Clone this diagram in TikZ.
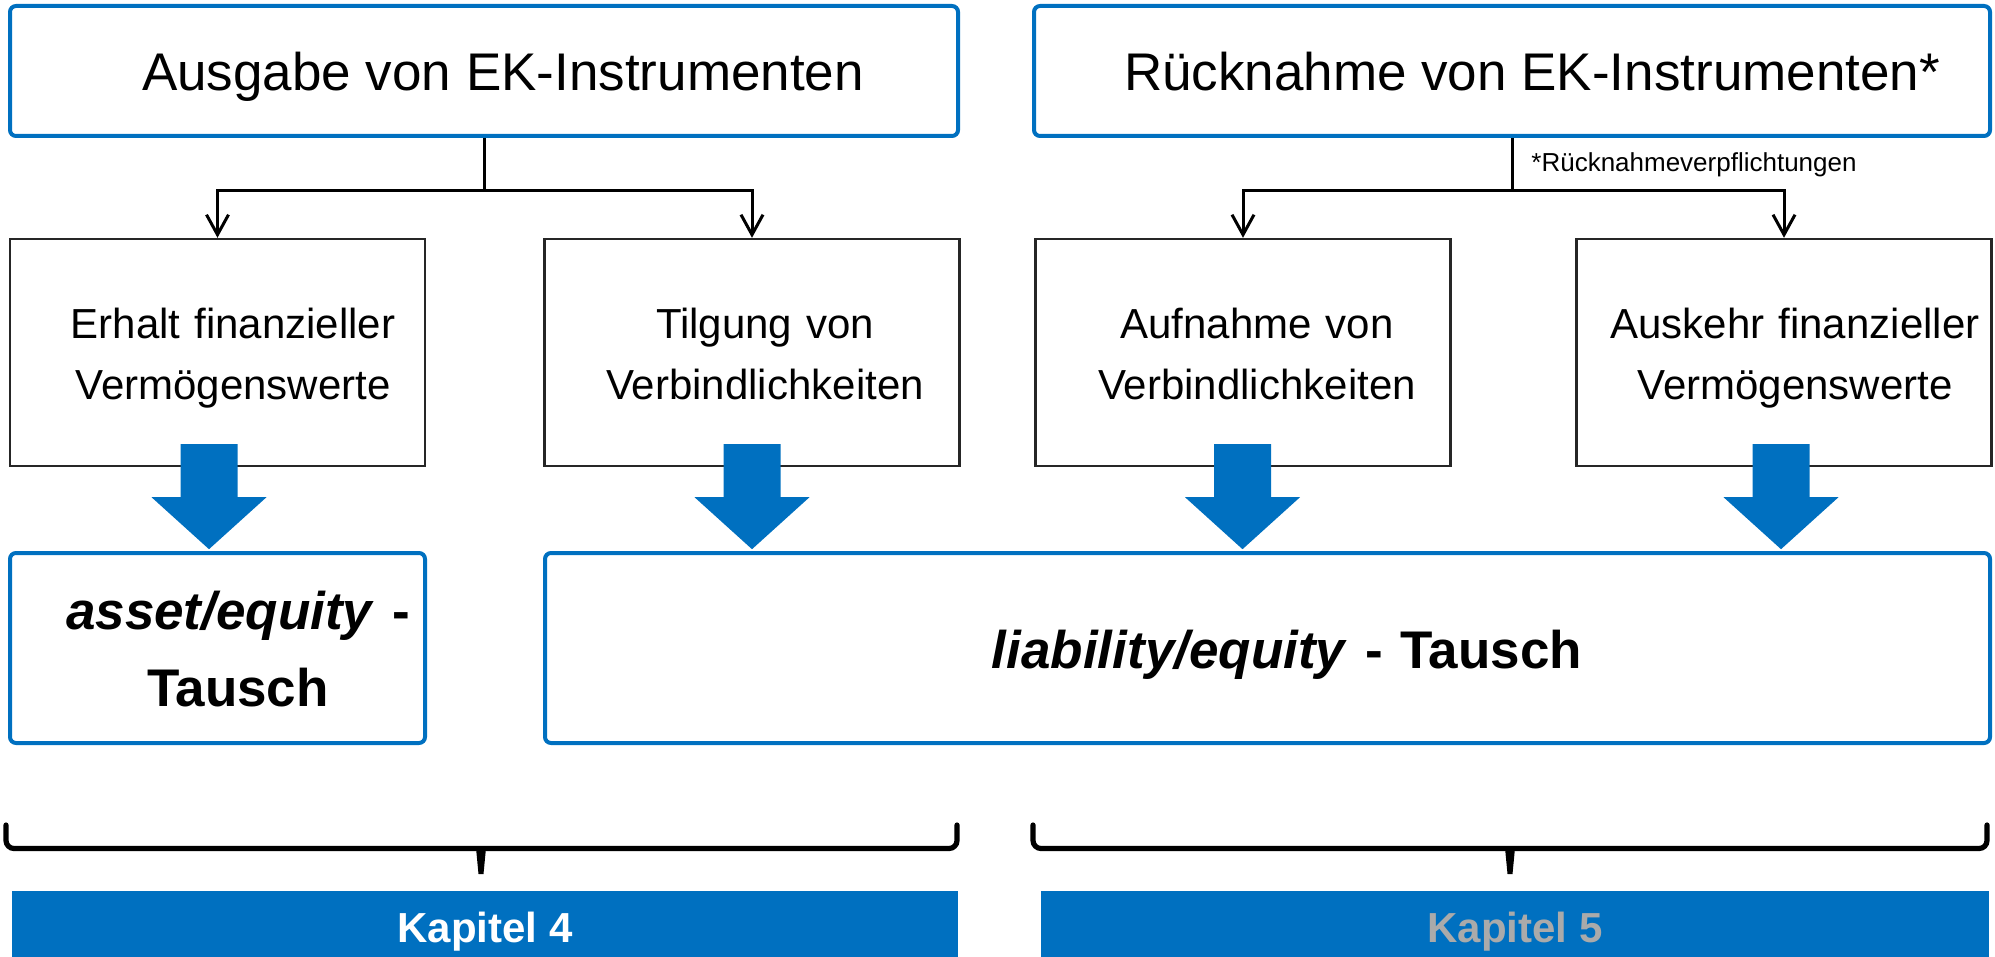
\documentclass[tikz,border=0pt]{standalone}
\usepackage{fontspec}
\setmainfont{Liberation Sans}
\usepackage{tikz}
\usetikzlibrary{arrows.meta}
\definecolor{ekblue}{RGB}{0,112,192}
\definecolor{ekgray}{RGB}{170,170,170}

\begin{document}
\begin{tikzpicture}[x=0.5pt,y=0.5pt,yscale=-1,xscale=1,
  bluebox/.style={draw=ekblue,line width=2pt,rounded corners=3pt,inner sep=0pt},
  blackbox/.style={draw=black!85,line width=1.2pt,inner sep=0pt,minimum width=207.5pt,minimum height=113.5pt},
  conn/.style={line width=1.5pt},
  bigtext/.style={anchor=base,inner sep=0pt,font=\fontsize{26.5}{38.5}\selectfont},
  midtext/.style={anchor=base,inner sep=0pt,align=center,text width=205pt,font=\fontsize{21}{30.5}\selectfont},
  tauschtext/.style={anchor=base,inner sep=0pt,align=center,text width=205pt,font=\fontsize{26.5}{38.5}\selectfont\bfseries},
  kapbar/.style={fill=ekblue,minimum height=33pt,text height=18pt,text depth=0pt,font=\fontsize{21}{25}\selectfont\bfseries},
  curly/.style={line width=2.6pt,line cap=round}
]
\useasboundingbox (0,0) rectangle (1995,957);

%Rectangles, top row
\node[bluebox,minimum width=474pt,minimum height=65pt] (tl) at (484,71) {};
\node[bluebox,minimum width=478pt,minimum height=65pt] (tr) at (1512,71) {};
%Rectangles, middle row
\node[blackbox] (m1) at (217.5,352.5) {};
\node[blackbox] (m2) at (752,352.5) {};
\node[blackbox] (m3) at (1243,352.5) {};
\node[blackbox] (m4) at (1784,352.5) {};
%Rectangles, bottom row
\node[bluebox,minimum width=207.5pt,minimum height=95pt] (bl) at (217.5,648) {};
\node[bluebox,minimum width=722.5pt,minimum height=95pt] (br) at (1267.5,648) {};

%Straight Lines
\draw[conn] (tl.south) -- ++(0,53) coordinate (f1);
\draw[conn,-{Straight Barb[length=10pt,width=11pt]}] (f1) -| (m1.north);
\draw[conn,-{Straight Barb[length=10pt,width=11pt]}] (f1) -| (m2.north);
\draw[conn] (tr.south) -- ++(0,53) coordinate (f2);
\draw[conn,-{Straight Barb[length=10pt,width=11pt]}] (f2) -| (m3.north);
\draw[conn,-{Straight Barb[length=10pt,width=11pt]}] (f2) -| (m4.north);

%Block arrows
\foreach \n/\dx in {m1/-8.5,m2/0,m3/-0.5,m4/-3}
  \fill[ekblue] (\n.south) ++(\dx-28.5,-23) -- ++(57,0) -- ++(0,53) -- ++(29,0)
    -- ++(-57.5,52) -- ++(-57.5,-52) -- ++(29,0) -- cycle;

%Braces
\foreach \a/\m/\b in {6/481/957,1033/1510/1987}{
  \draw[curly,rounded corners=4pt] (\a,825) -- (\a,848.5) -- (\b,848.5) -- (\b,825);
  \fill (\m-5,848) -- (\m+5,848) -- (\m+2.5,874) -- (\m-2.5,874) -- cycle;
}

%Bars
\node[kapbar,minimum width=473pt,text=white] (k4) at (485,924) {Kapitel 4};
\node[kapbar,minimum width=474pt,text=ekgray] (k5) at (1515,924) {Kapitel 5};

% Text Node
\node[bigtext] (tltext) at (503,91) {Ausgabe von EK-Instrumenten};
% Text Node
\node[bigtext] (trtext) at (1532,91) {Rücknahme von EK-Instrumenten*};
% Text Node
\node[anchor=base west,inner sep=0pt,font=\fontsize{13}{15}\selectfont] (note) at (1531,172) {*Rücknahmeverpflichtungen};
% Text Node
\node[midtext] (m1text) at (233,338) {Erhalt finanzieller\\Vermögenswerte};
% Text Node
\node[midtext] (m2text) at (765,338) {Tilgung von\\Verbindlichkeiten};
% Text Node
\node[midtext] (m3text) at (1257,338) {Aufnahme von\\Verbindlichkeiten};
% Text Node
\node[midtext] (m4text) at (1795,338) {Auskehr finanzieller\\Vermögenswerte};
% Text Node
\node[tauschtext] (bltext) at (238,629) {\textit{asset/equity} -\\Tausch};
% Text Node
\node[tauschtext,text width=700pt] (brtext) at (1287,668) {\textit{liability/equity} - Tausch};
\end{tikzpicture}
\end{document}
